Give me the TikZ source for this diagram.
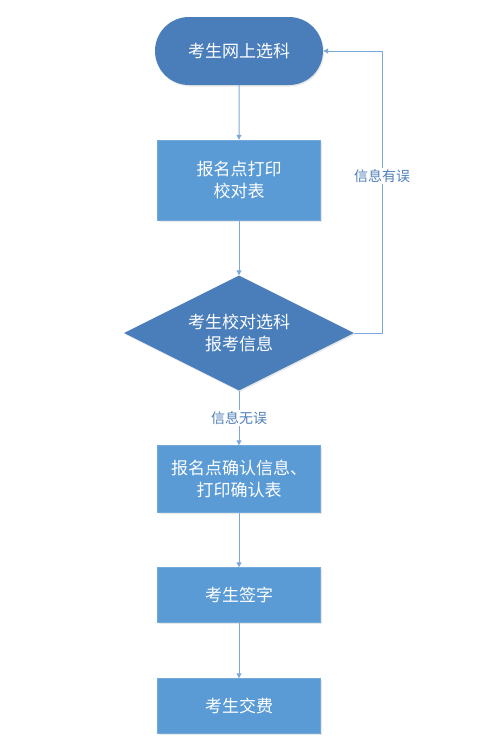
\documentclass[tikz,border=0pt]{standalone}
\usepackage{fontspec}
\setmainfont{Noto Sans CJK SC}
\usetikzlibrary{shapes.geometric,shapes.misc,arrows.meta,shadows}
\definecolor{darkfill}{HTML}{4A7EBA}
\definecolor{boxfill}{HTML}{5B9BD5}
\definecolor{linec}{HTML}{7EA8D8}
\definecolor{labc}{HTML}{4F7FB8}
\begin{document}
\begin{tikzpicture}[x=1pt,y=-1pt,
  base/.style={text=white,font=\fontsize{17}{22.5}\selectfont,align=center,inner sep=0pt,
    drop shadow={opacity=0.18,shadow xshift=1pt,shadow yshift=-1.5pt}},
  term/.style={base,rounded rectangle,fill=darkfill,minimum width=168pt,minimum height=68pt},
  proc/.style={base,rectangle,fill=boxfill,draw=boxfill!85!white,line width=0.5pt,minimum width=163pt},
  dec/.style={base,diamond,fill=darkfill,minimum width=230pt,minimum height=115pt,aspect=2},
  conn/.style={draw=linec,line width=1pt,-{Triangle[length=5pt,width=5pt]}},
  lab/.style={text=labc,font=\fontsize{14}{16}\selectfont,fill=white,inner sep=1.5pt}]
\useasboundingbox (0,0) rectangle (500,742);
\node[term] (t) at (239,51) {考生网上选科};
\node[proc,minimum height=80pt] (b1) at (239,180) {报名点打印\\校对表};
\node[dec,inner sep=0pt] (d) at (239,333) {};
\node[text=white,font=\fontsize{17}{22.5}\selectfont,align=center] (dt) at (239,333) {考生校对选科\\报考信息};
\node[proc,minimum height=67pt] (b3) at (239,479) {报名点确认信息、\\打印确认表};
\node[proc,minimum height=55pt] (b4) at (239,595) {考生签字};
\node[proc,minimum height=55pt] (b5) at (239,706) {考生交费};
\coordinate (c1) at (382,333);
\coordinate (c2) at (382,51);
\draw[conn] (t) -- (b1);
\draw[conn] (b1) -- (d);
\draw[conn] (d) -- node[lab] {信息无误} (b3);
\draw[conn] (b3) -- (b4);
\draw[conn] (b4) -- (b5);
\draw[conn] (d.east) -- (c1) -- node[lab,pos=0.557] {信息有误} (c2) -- (t.east);
\end{tikzpicture}
\end{document}
